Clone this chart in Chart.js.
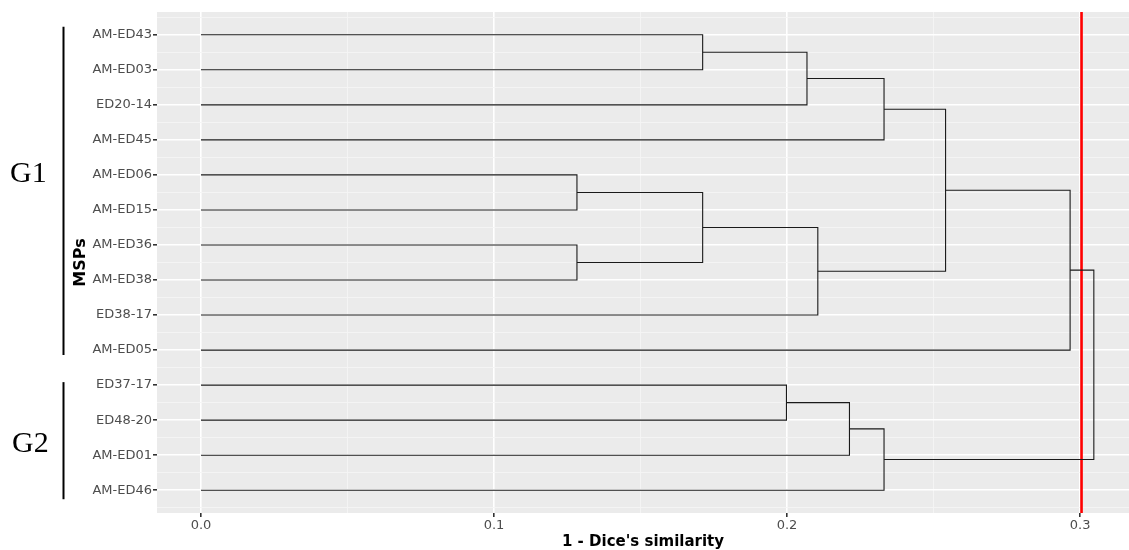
<!DOCTYPE html>
<html>
<head>
<meta charset="utf-8">
<script src="https://cdn.jsdelivr.net/npm/chart.js@4.4.1/dist/chart.umd.min.js"></script>
<style>
  html, body { margin: 0; padding: 0; background: #fff; }
  #wrap { width: 1129px; height: 550px; }
</style>
</head>
<body>
<div id="wrap"><canvas id="dendro" width="1129" height="550"></canvas></div>
<script>
// leaves, top to bottom
const leafLabels = ['AM-ED43', 'AM-ED03', 'ED20-14', 'AM-ED45', 'AM-ED06', 'AM-ED15', 'AM-ED36',
  'AM-ED38', 'ED38-17', 'AM-ED05', 'ED37-17', 'ED48-20', 'AM-ED01', 'AM-ED46'];

// hclust style merges: negative = leaf number (1-based), positive = earlier merge (1-based)
const mergeLeft   = [-5, -7, 1, -1, -11, 4, 3, 5, 6, 8, 9, 11, 12];
const mergeRight  = [-6, -8, 2, -2, -12, -3, -9, -13, -4, -14, 7, -10, 10];
const mergeHeight = [0.1283, 0.1283, 0.1712, 0.1712, 0.1998, 0.2068, 0.2105, 0.2213,
  0.2331, 0.2331, 0.2541, 0.2966, 0.3047];

// cut line
const cutHeight = 0.3005;

const xTickValues = [0, 0.05, 0.1, 0.15, 0.2, 0.25, 0.3];
const xTickLabels = ['0.0', '', '0.1', '', '0.2', '', '0.3'];

// group brackets (leaf numbers)
const groupNames = ['G1', 'G2'];
const groupFirst = [1, 11];
const groupLast  = [10, 14];

const X_MIN = -0.01502, X_MAX = 0.3167;
const Y_MIN = 0.35, Y_MAX = leafLabels.length + 0.65;

// y breaks: one per leaf, minor ones in between
const yTickValues = [];
for (let i = 0; i <= leafLabels.length * 2; i++) yTickValues.push(0.5 + i * 0.5);

// build one U-shaped polyline per merge
const nodePos = [];
const nodeHeight = [];
const childInfo = (id) => id < 0
  ? { pos: -id, h: 0 }
  : { pos: nodePos[id - 1], h: nodeHeight[id - 1] };

const segmentSets = mergeLeft.map((left, i) => {
  const a = childInfo(left);
  const b = childInfo(mergeRight[i]);
  const h = mergeHeight[i];
  nodePos[i] = (a.pos + b.pos) / 2;
  nodeHeight[i] = h;
  return {
    data: [{ x: a.h, y: a.pos }, { x: h, y: a.pos }, { x: h, y: b.pos }, { x: b.h, y: b.pos }],
    showLine: true,
    borderColor: '#1a1a1a',
    borderWidth: 1.1,
    borderJoinStyle: 'miter',
    pointRadius: 0,
    fill: false
  };
});

const cutSet = {
  data: [{ x: cutHeight, y: Y_MIN }, { x: cutHeight, y: Y_MAX }],
  showLine: true,
  borderColor: '#ff0000',
  borderWidth: 2.6,
  pointRadius: 0,
  fill: false
};

const isMajor = (v) => Math.abs(v * 10 - Math.round(v * 10)) < 1e-6;

// grey ggplot panel + G1/G2 brackets
const panelPlugin = {
  id: 'panel',
  beforeDraw(chart) {
    const { ctx, chartArea } = chart;
    ctx.save();
    ctx.fillStyle = '#ebebeb';
    ctx.fillRect(chartArea.left, chartArea.top, chartArea.right - chartArea.left, chartArea.bottom - chartArea.top);
    ctx.restore();
  },
  afterDraw(chart) {
    const { ctx } = chart;
    const yScale = chart.scales.y;
    const step = yScale.getPixelForValue(2) - yScale.getPixelForValue(1);
    ctx.save();
    ctx.strokeStyle = '#000';
    ctx.lineWidth = 2;
    ctx.fillStyle = '#000';
    ctx.font = '30px "Liberation Serif", "Times New Roman", serif';
    ctx.textBaseline = 'alphabetic';
    ctx.textAlign = 'left';
    groupNames.forEach((name, i) => {
      const top = yScale.getPixelForValue(groupFirst[i]) - (i === 0 ? 8 : 3);
      const bottom = yScale.getPixelForValue(groupLast[i]) + (i === 0 ? 5 : 9);
      ctx.beginPath();
      ctx.moveTo(63.5, top);
      ctx.lineTo(63.5, bottom);
      ctx.stroke();
      const base = i === 0
        ? yScale.getPixelForValue(groupFirst[i]) + step * 4.2
        : yScale.getPixelForValue(groupFirst[i]) + step * 1.9;
      ctx.fillText(name, i === 0 ? 10 : 12, base);
    });
    ctx.restore();
  }
};

new Chart(document.getElementById('dendro'), {
  type: 'scatter',
  data: { datasets: [...segmentSets, cutSet] },
  options: {
    responsive: false,
    animation: false,
    layout: { padding: { top: 12, left: 0, right: 0, bottom: 0 } },
    plugins: {
      legend: { display: false },
      tooltip: { enabled: false }
    },
    scales: {
      x: {
        type: 'linear',
        min: X_MIN,
        max: X_MAX,
        afterBuildTicks: (scale) => { scale.ticks = xTickValues.map(v => ({ value: v })); },
        afterFit: (scale) => { scale.height = 37; },
        border: { display: false },
        grid: {
          color: (c) => isMajor(c.tick.value) ? '#ffffff' : '#f5f5f5',
          lineWidth: (c) => isMajor(c.tick.value) ? 1.6 : 0.9,
          tickColor: (c) => isMajor(c.tick.value) ? '#333333' : 'rgba(0,0,0,0)',
          tickLength: 4,
          drawTicks: true
        },
        ticks: {
          autoSkip: false,
          maxRotation: 0,
          padding: 1,
          color: '#4d4d4d',
          font: { family: 'DejaVu Sans', size: 13 },
          callback: (v, i) => xTickLabels[i]
        },
        title: {
          display: true,
          text: "1 - Dice's similarity",
          color: '#000',
          font: { family: 'DejaVu Sans', size: 15, weight: 'bold', lineHeight: 1 },
          padding: { top: 0, bottom: 0 }
        }
      },
      y: {
        type: 'linear',
        reverse: true,
        min: Y_MIN,
        max: Y_MAX,
        afterBuildTicks: (scale) => { scale.ticks = yTickValues.map(v => ({ value: v })); },
        afterFit: (scale) => { scale.width = 157; },
        border: { display: false },
        grid: {
          color: (c) => Number.isInteger(c.tick.value) ? '#ffffff' : '#f5f5f5',
          lineWidth: (c) => Number.isInteger(c.tick.value) ? 1.6 : 0.9,
          tickColor: (c) => Number.isInteger(c.tick.value) ? '#333333' : 'rgba(0,0,0,0)',
          tickLength: 4,
          drawTicks: true
        },
        ticks: {
          autoSkip: false,
          padding: 1,
          color: '#4d4d4d',
          font: { family: 'DejaVu Sans', size: 13 },
          callback: (v) => Number.isInteger(v) ? leafLabels[v - 1] : ''
        },
        title: {
          display: true,
          text: 'MSPs',
          color: '#000',
          font: { family: 'DejaVu Sans', size: 16, weight: 'bold', lineHeight: 1 },
          padding: { top: 73, bottom: 0 }
        }
      }
    }
  },
  plugins: [panelPlugin]
});
</script>
</body>
</html>
